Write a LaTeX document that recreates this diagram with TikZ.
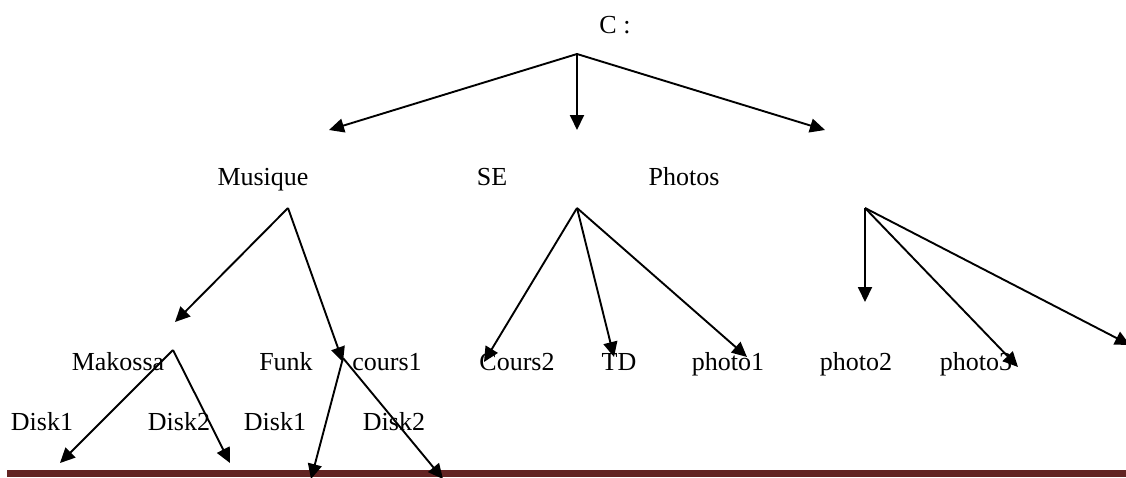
\documentclass[tikz,border=0pt]{standalone}
\usepackage{fontspec}
\setmainfont{Liberation Serif}
\usetikzlibrary{arrows.meta}
\definecolor{barmaroon}{RGB}{99,36,35}
\begin{document}
\begin{tikzpicture}[x=1pt,y=-1pt,
  lbl/.style={anchor=base,inner sep=0pt,font=\fontsize{26}{30}\selectfont},
  arr/.style={line width=1.9pt,-{Triangle[length=15pt,width=14pt]}}]
\useasboundingbox (0,0) rectangle (1126,477);
\fill[barmaroon] (7,470) rectangle (1126,477);
% texts
\node[lbl] (c) at (615,33) {C :};
\node[lbl] (mus) at (263,185) {Musique};
\node[lbl] (se) at (492,185) {SE};
\node[lbl] (pho) at (684,185) {Photos};
\node[lbl] (mak) at (118,370) {Makossa};
\node[lbl] (funk) at (286,370) {Funk};
\node[lbl] (c1) at (387,370) {cours1};
\node[lbl] (c2) at (517,370) {Cours2};
\node[lbl] (td) at (619,370) {TD};
\node[lbl] (p1) at (728,370) {photo1};
\node[lbl] (p2) at (856,370) {photo2};
\node[lbl] (p3) at (976,370) {photo3};
\node[lbl] (d1a) at (42,430) {Disk1};
\node[lbl] (d2a) at (179,430) {Disk2};
\node[lbl] (d1b) at (275,430) {Disk1};
\node[lbl] (d2b) at (394,430) {Disk2};
% branch points and arrow ends
\coordinate (rv) at (577,54);
\coordinate (rt1) at (329,130);
\coordinate (rt2) at (577,130);
\coordinate (rt3) at (825,130);
\coordinate (mv) at (288,208);
\coordinate (mt1) at (175,322);
\coordinate (mt2) at (343,362);
\coordinate (sv) at (577,208);
\coordinate (st1) at (484,362);
\coordinate (st2) at (614,357);
\coordinate (st3) at (747,357);
\coordinate (pv) at (865,208);
\coordinate (pt1) at (865,302);
\coordinate (pt2) at (1018,367);
\coordinate (pt3) at (1130,345);
\coordinate (kv) at (173,350);
\coordinate (kt1) at (60,463);
\coordinate (kt2) at (230,463);
\coordinate (fv) at (343,358);
\coordinate (ft1) at (311,479);
\coordinate (ft2) at (443,479);
% connectors
\draw[arr] (rv) -- (rt1);
\draw[arr] (rv) -- (rt2);
\draw[arr] (rv) -- (rt3);
\draw[arr] (mv) -- (mt1);
\draw[arr] (mv) -- (mt2);
\draw[arr] (sv) -- (st1);
\draw[arr] (sv) -- (st2);
\draw[arr] (sv) -- (st3);
\draw[arr] (pv) -- (pt1);
\draw[arr] (pv) -- (pt2);
\draw[arr] (pv) -- (pt3);
\draw[arr] (kv) -- (kt1);
\draw[arr] (kv) -- (kt2);
\draw[arr] (fv) -- (ft1);
\draw[arr] (fv) -- (ft2);
\end{tikzpicture}
\end{document}
